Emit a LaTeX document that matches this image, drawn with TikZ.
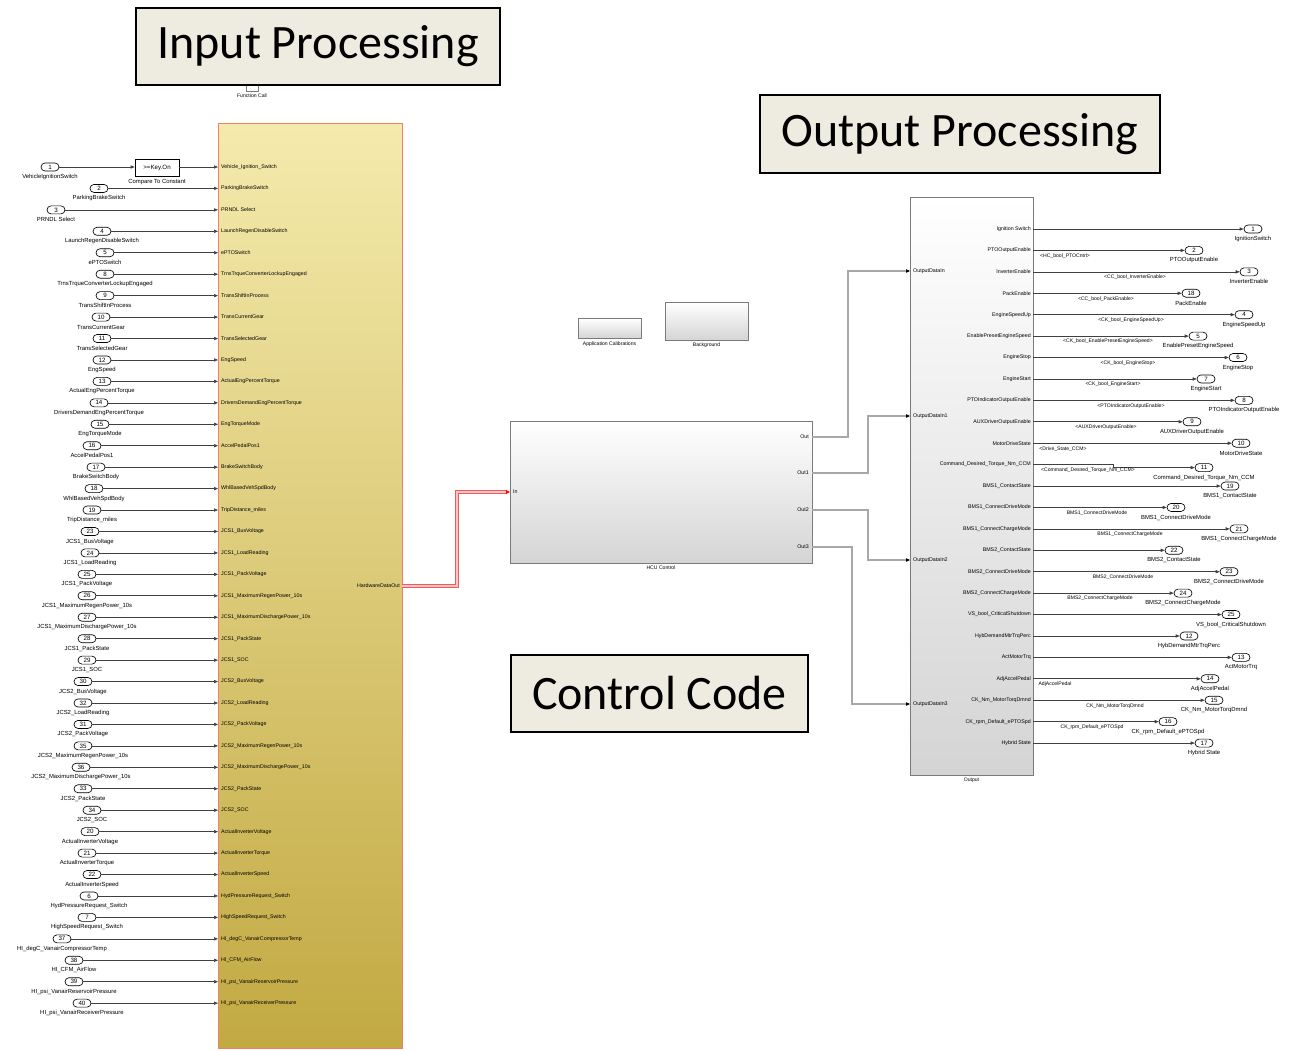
\documentclass[tikz,border=0pt]{standalone}
\usepackage{fontspec}
\setmainfont{Liberation Sans}
\newfontfamily\titlefont{Carlito}
\usetikzlibrary{arrows.meta}
\definecolor{titlefill}{HTML}{EEECE1}
\definecolor{inTop}{HTML}{F4EAAC}
\definecolor{inBot}{HTML}{C2A942}
\definecolor{inBorder}{HTML}{F0806A}
\definecolor{busRed}{HTML}{F05A5A}
\definecolor{busRedIn}{HTML}{FAC4C4}
\definecolor{lineGray}{HTML}{404040}
\definecolor{blkBorder}{HTML}{7A7A7A}
\definecolor{blkBot}{HTML}{D4D4D4}
\definecolor{busOut}{HTML}{5A5A5A}
\definecolor{busIn}{HTML}{A8A8A8}

\newcommand\irow[4]{%
  \pgfmathsetmacro\yy{167+21.44*#1}
  \node[portov] (ip#2) at (#3,\yy) {#2};
  \node[olab] at (#3,\yy+10) {#4};
  \coordinate (ib#2) at (218,\yy);
  \draw[sig] (ip#2.east) -- (ib#2);
  \node[ilab,anchor=west] at (221,\yy) {#4};
}
\newcommand\orow[7]{%
  \pgfmathsetmacro\yy{229+21.42*#1}
  \node[ilab,anchor=east] at (1031,\yy) {#2};
  \coordinate (ob#3) at (1033,\yy);
  \node[portov] (op#3) at (#4,\yy) {#3};
  \draw[sig] (ob#3) -- (op#3.west);
  \if\relax\detokenize{#5}\relax\else\node[slab] at (#6,\yy+5.5) {#5};\fi
  \node[olab] at (#4,\yy+10) {#7};
}

\begin{document}
\begin{tikzpicture}[x=1pt,y=-1pt,
  titlebox/.style={draw=black,line width=2.2pt,fill=titlefill,inner sep=0pt,font=\titlefont\fontsize{48}{52}\selectfont},
  ilab/.style={inner sep=0pt,font=\fontsize{5.3}{6}\selectfont},
  olab/.style={inner sep=0pt,font=\fontsize{5.9}{6.5}\selectfont},
  slab/.style={inner sep=0pt,font=\fontsize{5.1}{6}\selectfont},
  portov/.style={draw=black,line width=0.65pt,rounded corners=4pt,minimum width=18pt,minimum height=8pt,inner sep=0pt,fill=white,font=\fontsize{6.2}{6.5}\selectfont},
  sig/.style={draw=lineGray,line width=0.65pt,-{Triangle[length=4pt,width=3.2pt]}},
  tip/.style={draw=black,line width=0.6pt,-{Triangle[length=4pt,width=3.4pt]}},
  bus/.style={draw=busOut,line width=0.9pt,double=busIn,double distance=1.1pt},
  redbus/.style={draw=busRed,line width=1pt,double=busRedIn,double distance=1.2pt},
  grayblk/.style={draw=blkBorder,line width=0.8pt,top color=white,bottom color=blkBot,inner sep=0pt,anchor=north west},
]
\useasboundingbox (0,0) rectangle (1294,1051);
\fill[white] (0,0) rectangle (1294,1051);

% Function call port and title
\node[draw=blkBorder,fill=white,line width=0.6pt,minimum width=12pt,minimum height=9pt,inner sep=0pt] (fcall) at (252,86.5) {};
\node[slab] (fcalllab) at (252,96) {Function Call};
\node[titlebox,minimum width=364pt,minimum height=77pt] (tin) at (318,46.5) {Input Processing};
\node[titlebox,minimum width=400pt,minimum height=78pt] (tout) at (960,134) {Output Processing};
\node[titlebox,minimum width=297pt,minimum height=77pt] (tctl) at (659.5,693.5) {Control Code};

% Input processing block
\node[draw=inBorder,line width=1.1pt,top color=inTop,bottom color=inBot,minimum width=184pt,minimum height=925pt,inner sep=0pt,anchor=north west] (inblk) at (218,123) {};
\node[ilab,anchor=east] (hwlab) at (400,586) {HardwareDataOut};
\coordinate (hwout) at (402,586);

% Row 1 with compare block
\node[portov] (ip1) at (50,167) {1};
\node[olab] at (50,177) {VehicleIgnitionSwitch};
\node[draw=black,line width=0.6pt,fill=white,minimum width=44pt,minimum height=17pt,inner sep=0pt,font=\fontsize{6.2}{7}\selectfont] (cmp) at (157,167.5) {>=Key.On};
\node[olab] at (157,182) {Compare To Constant};
\coordinate (ib1) at (218,167);
\draw[sig] (ip1.east) -- (cmp.west |- ip1);
\draw[sig] (cmp.east |- ib1) -- (ib1);
\node[ilab,anchor=west] at (221,167) {Vehicle\_Ignition\_Switch};

\irow{1}{2}{99}{ParkingBrakeSwitch}
\irow{2}{3}{56}{PRNDL Select}
\irow{3}{4}{102}{LaunchRegenDisableSwitch}
\irow{4}{5}{105}{ePTOSwitch}
\irow{5}{8}{105}{TrnsTrqueConverterLockupEngaged}
\irow{6}{9}{105}{TransShiftInProcess}
\irow{7}{10}{101}{TransCurrentGear}
\irow{8}{11}{102}{TransSelectedGear}
\irow{9}{12}{102}{EngSpeed}
\irow{10}{13}{102}{ActualEngPercentTorque}
\irow{11}{14}{99}{DriversDemandEngPercentTorque}
\irow{12}{15}{100}{EngTorqueMode}
\irow{13}{16}{92}{AccelPedalPos1}
\irow{14}{17}{96}{BrakeSwitchBody}
\irow{15}{18}{94}{WhlBasedVehSpdBody}
\irow{16}{19}{92}{TripDistance\_miles}
\irow{17}{23}{90}{JCS1\_BusVoltage}
\irow{18}{24}{90}{JCS1\_LoadReading}
\irow{19}{25}{87}{JCS1\_PackVoltage}
\irow{20}{26}{87}{JCS1\_MaximumRegenPower\_10s}
\irow{21}{27}{87}{JCS1\_MaximumDischargePower\_10s}
\irow{22}{28}{87}{JCS1\_PackState}
\irow{23}{29}{87}{JCS1\_SOC}
\irow{24}{30}{83}{JCS2\_BusVoltage}
\irow{25}{32}{83}{JCS2\_LoadReading}
\irow{26}{31}{83}{JCS2\_PackVoltage}
\irow{27}{35}{83}{JCS2\_MaximumRegenPower\_10s}
\irow{28}{36}{81}{JCS2\_MaximumDischargePower\_10s}
\irow{29}{33}{83}{JCS2\_PackState}
\irow{30}{34}{92}{JCS2\_SOC}
\irow{31}{20}{90}{ActualInverterVoltage}
\irow{32}{21}{87}{ActualInverterTorque}
\irow{33}{22}{92}{ActualInverterSpeed}
\irow{34}{6}{89}{HydPressureRequest\_Switch}
\irow{35}{7}{87}{HighSpeedRequest\_Switch}
\irow{36}{37}{62}{HI\_degC\_VanairCompressorTemp}
\irow{37}{38}{74}{HI\_CFM\_AirFlow}
\irow{38}{39}{74}{HI\_psi\_VanairReservoirPressure}
\irow{39}{40}{82}{HI\_psi\_VanairReceiverPressure}

% Small blocks
\node[grayblk,minimum width=63pt,minimum height=20pt] (appcal) at (578,318) {};
\node[slab] at (609.5,344) {Application Calibrations};
\node[grayblk,minimum width=83pt,minimum height=38pt] (bkgd) at (665,302) {};
\node[slab] at (706.5,345) {Background};

% HCU Control
\node[grayblk,minimum width=302pt,minimum height=142pt] (hcu) at (510,421) {};
\node[slab] at (661,568) {HCU Control};
\node[ilab,anchor=west] at (513,492) {In};
\coordinate (hcuin) at (510,492);
\node[ilab,anchor=east] at (809,437) {Out};
\node[ilab,anchor=east] at (809,473) {Out1};
\node[ilab,anchor=east] at (809,510) {Out2};
\node[ilab,anchor=east] at (809,547) {Out3};
\coordinate (hout0) at (812,437);
\coordinate (hout1) at (812,473);
\coordinate (hout2) at (812,510);
\coordinate (hout3) at (812,547);

% Red bus
\draw[redbus,shorten >=3.5pt] (hwout) -- (457,586) -- (457,492) -- (hcuin);
\draw[draw=red,line width=0.6pt,-{Triangle[length=4pt,width=3.6pt]}] ([xshift=-4pt]hcuin) -- (hcuin);

% Output block
\node[grayblk,minimum width=123pt,minimum height=578pt] (outblk) at (910,197) {};
\node[slab] at (971.5,780) {Output};
\coordinate (odi0) at (910,271);
\coordinate (odi1) at (910,416);
\coordinate (odi2) at (910,560);
\coordinate (odi3) at (910,704);
\node[ilab,anchor=west] at (913,271) {OutputDataIn};
\node[ilab,anchor=west] at (913,416) {OutputDataIn1};
\node[ilab,anchor=west] at (913,560) {OutputDataIn2};
\node[ilab,anchor=west] at (913,704) {OutputDataIn3};

% Gray buses
\draw[bus,shorten >=3.5pt] (hout0) -- (848,437) -- (848,271) -- (odi0);
\draw[bus,shorten >=3.5pt] (hout1) -- (868,473) -- (868,416) -- (odi1);
\draw[bus,shorten >=3.5pt] (hout2) -- (868,510) -- (868,560) -- (odi2);
\draw[bus,shorten >=3.5pt] (hout3) -- (852,547) -- (852,704) -- (odi3);
\draw[tip] ([xshift=-4pt]odi0) -- (odi0);
\draw[tip] ([xshift=-4pt]odi1) -- (odi1);
\draw[tip] ([xshift=-4pt]odi2) -- (odi2);
\draw[tip] ([xshift=-4pt]odi3) -- (odi3);

% Output rows
\orow{0}{Ignition Switch}{1}{1253}{}{0}{IgnitionSwitch}
\orow{1}{PTOOutputEnable}{2}{1194}{<HC\_bool\_PTOCntrl>}{1065}{PTOOutputEnable}
\orow{2}{InverterEnable}{3}{1249}{<CC\_bool\_InverterEnable>}{1135}{InverterEnable}
\orow{3}{PackEnable}{18}{1191}{<CC\_bool\_PackEnable>}{1106}{PackEnable}
\orow{4}{EngineSpeedUp}{4}{1244}{<CK\_bool\_EngineSpeedUp>}{1131}{EngineSpeedUp}
\orow{5}{EnablePresetEngineSpeed}{5}{1198}{<CK\_bool\_EnablePresetEngineSpeed>}{1108}{EnablePresetEngineSpeed}
\orow{6}{EngineStop}{6}{1238}{<CK\_bool\_EngineStop>}{1128}{EngineStop}
\orow{7}{EngineStart}{7}{1206}{<CK\_bool\_EngineStart>}{1113}{EngineStart}
\orow{8}{PTOIndicatorOutputEnable}{8}{1244}{<PTOIndicatorOutputEnable>}{1131}{PTOIndicatorOutputEnable}
\orow{9}{AUXDriverOutputEnable}{9}{1192}{<AUXDriverOutputEnable>}{1106}{AUXDriverOutputEnable}
\orow{10}{MotorDriveState}{10}{1241}{<Drive\_State\_CCM>}{1063}{MotorDriveState}
% row 11 with jog
\pgfmathsetmacro\yy{229+21.42*11}
\node[ilab,anchor=east] at (1031,\yy) {Command\_Desired\_Torque\_Nm\_CCM};
\coordinate (ob11) at (1033,\yy);
\node[portov] (op11) at (1204,\yy+3) {11};
\draw[sig] (ob11) -- (1113,\yy) -- (1113,\yy+3) -- (op11.west);
\node[slab] at (1088,\yy+5.5) {<Command\_Desired\_Torque\_Nm\_CCM>};
\node[olab] at (1204,\yy+13) {Command\_Desired\_Torque\_Nm\_CCM};
\orow{12}{BMS1\_ContactState}{19}{1230}{}{0}{BMS1\_ContactState}
\orow{13}{BMS1\_ConnectDriveMode}{20}{1176}{BMS1\_ConnectDriveMode}{1097}{BMS1\_ConnectDriveMode}
\orow{14}{BMS1\_ConnectChargeMode}{21}{1239}{BMS1\_ConnectChargeMode}{1130}{BMS1\_ConnectChargeMode}
\orow{15}{BMS2\_ContactState}{22}{1174}{}{0}{BMS2\_ContactState}
\orow{16}{BMS2\_ConnectDriveMode}{23}{1229}{BMS2\_ConnectDriveMode}{1123}{BMS2\_ConnectDriveMode}
\orow{17}{BMS2\_ConnectChargeMode}{24}{1183}{BMS2\_ConnectChargeMode}{1100}{BMS2\_ConnectChargeMode}
\orow{18}{VS\_bool\_CriticalShutdown}{25}{1231}{}{0}{VS\_bool\_CriticalShutdown}
\orow{19}{HybDemandMtrTrqPerc}{12}{1189}{}{0}{HybDemandMtrTrqPerc}
\orow{20}{ActMotorTrq}{13}{1241}{}{0}{ActMotorTrq}
\orow{21}{AdjAccelPedal}{14}{1210}{AdjAccelPedal}{1055}{AdjAccelPedal}
\orow{22}{CK\_Nm\_MotorTorqDmnd}{15}{1214}{CK\_Nm\_MotorTorqDmnd}{1115}{CK\_Nm\_MotorTorqDmnd}
\orow{23}{CK\_rpm\_Default\_ePTOSpd}{16}{1168}{CK\_rpm\_Default\_ePTOSpd}{1092}{CK\_rpm\_Default\_ePTOSpd}
\orow{24}{Hybrid State}{17}{1204}{}{0}{Hybrid State}
\end{tikzpicture}
\end{document}
